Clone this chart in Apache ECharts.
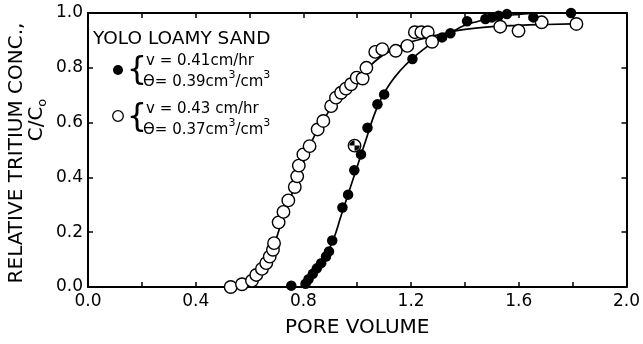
<!DOCTYPE html>
<html>
<head>
<meta charset="utf-8">
<script src="https://cdn.jsdelivr.net/npm/echarts@6/dist/echarts.min.js"></script>
<style>
html,body{margin:0;padding:0;background:#fff;}
#chart{width:643px;height:344px;}
</style>
</head>
<body>
<div id="chart"></div>
<script>
// ---- data ----
const openX = [0.530,0.572,0.609,0.625,0.646,0.662,0.675,0.687,0.691,0.708,0.726,0.744,0.768,0.777,0.783,0.800,0.823,0.853,0.874,0.903,0.921,0.940,0.958,0.977,0.998,1.020,1.034,1.067,1.093,1.143,1.186,1.214,1.238,1.262,1.278,1.531,1.599,1.685,1.814];
const openY = [0.000,0.010,0.023,0.044,0.066,0.087,0.111,0.136,0.160,0.236,0.274,0.316,0.365,0.404,0.443,0.484,0.514,0.575,0.606,0.660,0.691,0.709,0.724,0.740,0.764,0.761,0.800,0.858,0.868,0.862,0.880,0.930,0.930,0.930,0.895,0.950,0.935,0.966,0.960];
const filledX = [0.755,0.808,0.819,0.835,0.850,0.866,0.884,0.895,0.907,0.945,0.966,0.989,1.014,1.038,1.075,1.100,1.205,1.315,1.346,1.408,1.476,1.500,1.525,1.556,1.654,1.794];
const filledY = [0.005,0.012,0.028,0.048,0.068,0.087,0.111,0.130,0.170,0.290,0.337,0.426,0.484,0.581,0.667,0.703,0.832,0.911,0.926,0.970,0.978,0.984,0.990,0.996,0.984,1.000];
const mixedX = [0.990];
const mixedY = [0.516];
const filledCurveX = [0.79,0.82,0.85,0.88,0.91,0.94,0.97,1.00,1.03,1.06,1.09,1.12,1.16,1.20,1.25,1.30,1.35,1.40,1.45,1.50,1.60,1.70,1.80];
const filledCurveY = [0.00,0.03,0.07,0.11,0.17,0.26,0.35,0.44,0.53,0.62,0.69,0.74,0.79,0.83,0.87,0.905,0.93,0.955,0.97,0.983,0.995,1.00,1.00];
const openCurveX = [0.60,0.63,0.66,0.69,0.72,0.75,0.78,0.81,0.84,0.87,0.90,0.93,0.96,1.00,1.04,1.08,1.12,1.16,1.20,1.26,1.32,1.40,1.50,1.60,1.70,1.80];
const openCurveY = [0.00,0.03,0.08,0.15,0.24,0.32,0.40,0.48,0.55,0.60,0.65,0.69,0.725,0.76,0.80,0.835,0.86,0.88,0.895,0.91,0.925,0.94,0.95,0.955,0.958,0.96];
const xLabeled = ['0.0','0.4','0.8','1.2','1.6','2.0'];
const yLabels = ['0.0','0.2','0.4','0.6','0.8','1.0'];
const xTitle = 'PORE VOLUME';
const yTitle = 'RELATIVE TRITIUM CONC.,';
const legendTitle = 'YOLO LOAMY SAND';

const zip = (a, b) => a.map((v, i) => [v, b[i]]);
const FONT = '"DejaVu Sans", "Liberation Sans", sans-serif';

const chart = echarts.init(document.getElementById('chart'), null, {renderer: 'canvas'});

const baseAxis = {
  type: 'value',
  axisLine: {show: true, onZero: false, lineStyle: {color: '#000', width: 2}},
  axisTick: {show: true, inside: true, length: 5, lineStyle: {color: '#000', width: 1.5}},
  splitLine: {show: false}
};

const option = {
  animation: false,
  backgroundColor: '#fff',
  grid: {left: 88, right: 14, top: 13, bottom: 57, containLabel: false},
  xAxis: [
    Object.assign({}, baseAxis, {
      position: 'bottom', min: 0, max: 2, interval: 0.2,
      axisLabel: {
        color: '#000', fontSize: 17, fontFamily: FONT, margin: 6,
        formatter: v => { const s = v.toFixed(1); return xLabeled.indexOf(s) >= 0 ? s : ''; }
      },
      name: xTitle, nameLocation: 'middle', nameGap: 31,
      nameTextStyle: {color: '#000', fontSize: 20, fontFamily: FONT}
    }),
    Object.assign({}, baseAxis, {
      position: 'top', min: 0, max: 2, interval: 0.2, axisLabel: {show: false}
    })
  ],
  yAxis: [
    Object.assign({}, baseAxis, {
      position: 'left', min: 0, max: 1, interval: 0.2,
      axisLabel: {
        color: '#000', fontSize: 17, fontFamily: FONT, margin: 5,
        formatter: v => { const s = v.toFixed(1); return yLabels.indexOf(s) >= 0 ? s : ''; }
      }
    }),
    Object.assign({}, baseAxis, {
      position: 'right', min: 0, max: 1, interval: 0.2, axisLabel: {show: false}
    })
  ],
  series: [
    {
      type: 'line', data: zip(openCurveX, openCurveY), smooth: true, showSymbol: false,
      lineStyle: {color: '#000', width: 1.7}, clip: false, z: 2, silent: true
    },
    {
      type: 'line', data: zip(filledCurveX, filledCurveY), smooth: true, showSymbol: false,
      lineStyle: {color: '#000', width: 1.7}, clip: false, z: 2, silent: true
    },
    {
      type: 'scatter', data: zip(openX, openY).concat(zip(mixedX, mixedY)), symbol: 'circle', symbolSize: 12.5,
      itemStyle: {color: '#fff', borderColor: '#000', borderWidth: 1.4, opacity: 1}, clip: false, z: 3
    },
    {
      type: 'scatter', data: zip(filledX, filledY), symbol: 'circle', symbolSize: 10.5,
      itemStyle: {color: '#000', opacity: 1}, clip: false, z: 4
    },
    {
      type: 'scatter', data: zip(mixedX, mixedY),
      symbol: 'path://M0,0 L0,-10 A10,10 0 0 0 -10,0 Z M0,0 L0,10 A10,10 0 0 0 10,0 Z',
      symbolSize: 10.5, itemStyle: {color: '#000', opacity: 1}, clip: false, z: 5
    }
  ],
  graphic: [
    {type: 'text', x: 17, y: 153, rotation: Math.PI / 2,
     style: {text: yTitle, x: 0, y: 0, align: 'center', verticalAlign: 'middle', font: '20px ' + FONT, fill: '#000'}},
    {type: 'text', x: 37, y: 120, rotation: Math.PI / 2,
     style: {text: '{a|C/C}{b|o}', x: 0, y: 0, align: 'center', verticalAlign: 'middle', fill: '#000',
       rich: {a: {fontSize: 20, fontFamily: FONT, fill: '#000', lineHeight: 24, verticalAlign: 'middle'},
              b: {fontSize: 13, fontFamily: FONT, fill: '#000', lineHeight: 24, verticalAlign: 'bottom', padding: [8, 0, 0, 0]}}}},
    {type: 'text', x: 93, y: 39,
     style: {text: legendTitle, x: 0, y: 0, align: 'left', verticalAlign: 'middle', font: '18.5px ' + FONT, fill: '#000'}},
    {type: 'circle', shape: {cx: 118, cy: 70, r: 5}, style: {fill: '#000'}},
    {type: 'circle', shape: {cx: 118, cy: 116, r: 5.3}, style: {fill: '#fff', stroke: '#000', lineWidth: 1.3}},
    {type: 'text', x: 137, y: 71,
     style: {text: '{', x: 0, y: 0, align: 'center', verticalAlign: 'middle', font: '32px ' + FONT, fill: '#000'}},
    {type: 'text', x: 137, y: 118,
     style: {text: '{', x: 0, y: 0, align: 'center', verticalAlign: 'middle', font: '32px ' + FONT, fill: '#000'}},
    {type: 'text', x: 146, y: 61,
     style: {text: 'v = 0.41cm/hr', x: 0, y: 0, align: 'left', verticalAlign: 'middle', font: '15px ' + FONT, fill: '#000'}},
    {type: 'text', x: 143, y: 80,
     style: {text: '{a|ϴ= 0.39cm}{s|3}{a|/cm}{s|3}', x: 0, y: 0, align: 'left', verticalAlign: 'middle', fill: '#000',
       rich: {a: {fontSize: 15, fontFamily: FONT, fill: '#000', lineHeight: 20, verticalAlign: 'bottom'},
              s: {fontSize: 11, fontFamily: FONT, fill: '#000', lineHeight: 11, verticalAlign: 'top'}}}},
    {type: 'text', x: 146, y: 109,
     style: {text: 'v = 0.43 cm/hr', x: 0, y: 0, align: 'left', verticalAlign: 'middle', font: '15px ' + FONT, fill: '#000'}},
    {type: 'text', x: 143, y: 128,
     style: {text: '{a|ϴ= 0.37cm}{s|3}{a|/cm}{s|3}', x: 0, y: 0, align: 'left', verticalAlign: 'middle', fill: '#000',
       rich: {a: {fontSize: 15, fontFamily: FONT, fill: '#000', lineHeight: 20, verticalAlign: 'bottom'},
              s: {fontSize: 11, fontFamily: FONT, fill: '#000', lineHeight: 11, verticalAlign: 'top'}}}}
  ]
};
chart.setOption(option);
</script>
</body>
</html>
